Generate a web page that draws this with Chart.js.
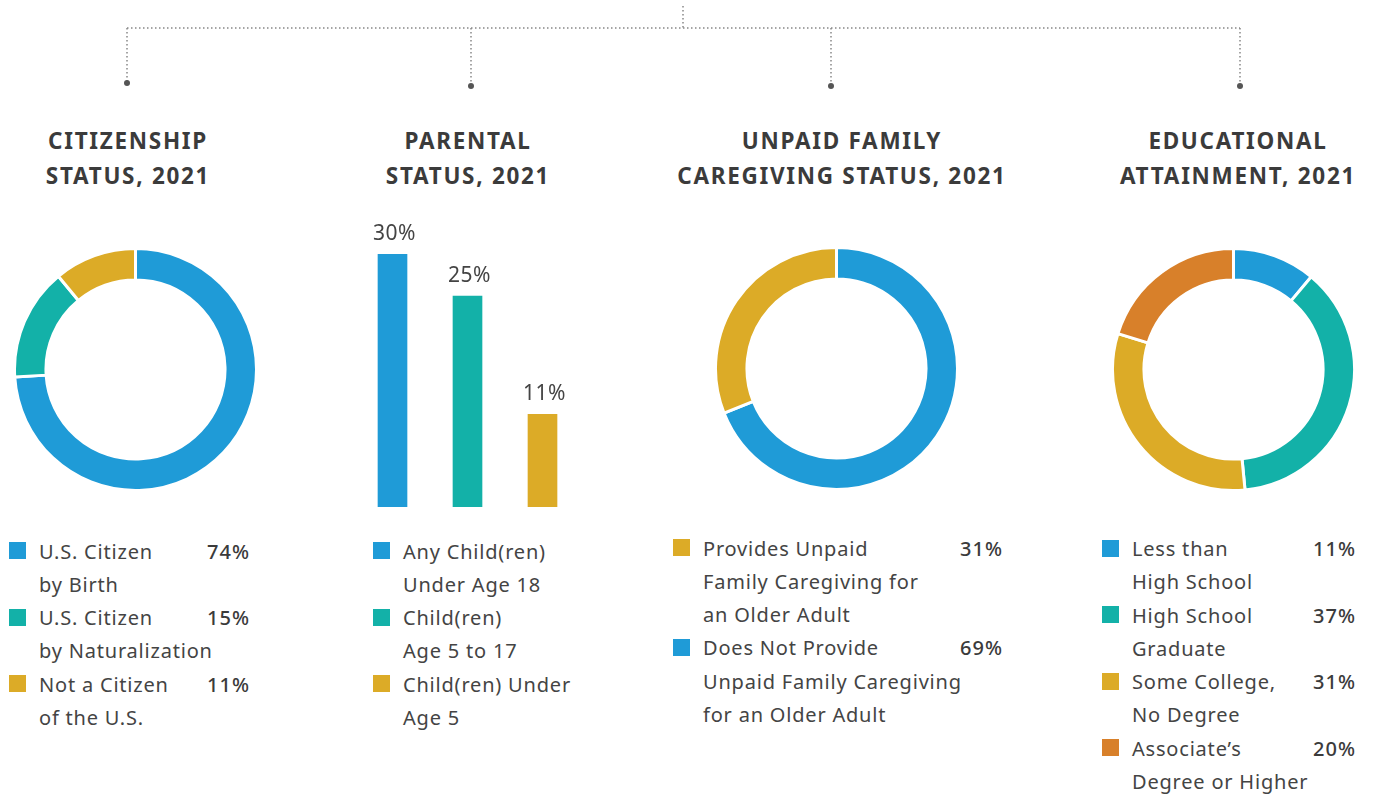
<!DOCTYPE html>
<html>
<head>
<meta charset="utf-8">
<script src="https://cdn.jsdelivr.net/npm/chart.js@4.4.1/dist/chart.umd.min.js"></script>
<style>
  html, body { margin: 0; padding: 0; background: #fff; }
  body { width: 1377px; height: 797px; position: relative; overflow: hidden; font-family: "Noto Sans", "Open Sans", sans-serif; }
  canvas { position: absolute; }
  .title { position: absolute; width: 420px; text-align: center; font-weight: 700; font-size: 22.5px; line-height: 35px; letter-spacing: 1.7px; color: #3b3b3b; top: 122.5px; }
  .legend { position: absolute; font-size: 20px; line-height: 33.3px; letter-spacing: 0.8px; color: #444; }
  .legend .item { position: relative; white-space: pre-line; }
  .legend .sw { position: absolute; left: 0; top: 7.5px; width: 17px; height: 17px; }
  .legend .pct { position: absolute; right: 0; top: 0; font-weight: 500; color: #3b3b3b; letter-spacing: 1px; }
  svg { position: absolute; left: 0; top: 0; }
</style>
</head>
<body>
<svg width="1377" height="100">
  <g stroke="#888" stroke-width="1.5" stroke-dasharray="1.5 2.5" fill="none">
    <line x1="683" y1="6" x2="683" y2="28"/>
    <line x1="127" y1="28" x2="1240" y2="28"/>
    <line x1="127" y1="28" x2="127" y2="83"/>
    <line x1="471" y1="28" x2="471" y2="86"/>
    <line x1="831" y1="28" x2="831" y2="86"/>
    <line x1="1240" y1="28" x2="1240" y2="86"/>
  </g>
  <g fill="#555">
    <circle cx="127" cy="83" r="3"/>
    <circle cx="471" cy="86" r="3"/>
    <circle cx="831" cy="86" r="3"/>
    <circle cx="1240" cy="86" r="3"/>
  </g>
</svg>

<div class="title" style="left:-82px">CITIZENSHIP<br>STATUS, 2021</div>
<div class="title" style="left:258px">PARENTAL<br>STATUS, 2021</div>
<div class="title" style="left:632px">UNPAID FAMILY<br>CAREGIVING STATUS, 2021</div>
<div class="title" style="left:1028px">EDUCATIONAL<br>ATTAINMENT, 2021</div>

<canvas id="citizen" width="245" height="245" style="left:12.5px; top:246.5px"></canvas>
<canvas id="parent" width="225" height="307" style="left:355px; top:200px"></canvas>
<canvas id="care" width="245" height="245" style="left:713.5px; top:246px"></canvas>
<canvas id="edu" width="245" height="245" style="left:1110.5px; top:246.5px"></canvas>

<div class="legend" id="legCitizen" style="left:9px; top:534.6px; width:241px"></div>
<div class="legend" id="legParent" style="left:373px; top:534.6px; width:240px"></div>
<div class="legend" id="legCare" style="left:673px; top:531.6px; width:330px"></div>
<div class="legend" id="legEdu" style="left:1102px; top:532px; width:254px"></div>

<script>
const BLUE = "#1f9bd7", TEAL = "#13b1a8", GOLD = "#dcab27", ORANGE = "#d8802a";

// citizenship
const citizenLabels = ["U.S. Citizen\nby Birth", "U.S. Citizen\nby Naturalization", "Not a Citizen\nof the U.S."];
const citizenValues = [74, 15, 11];
const citizenColors = [BLUE, TEAL, GOLD];

// parental status
const parentLabels = ["Any Child(ren)\nUnder Age 18", "Child(ren)\nAge 5 to 17", "Child(ren) Under\nAge 5"];
const parentValues = [30, 25, 11];
const parentColors = [BLUE, TEAL, GOLD];

// caregiving (drawing order: blue from the top, legend shows gold first)
const careLabels = ["Does Not Provide\nUnpaid Family Caregiving\nfor an Older Adult", "Provides Unpaid\nFamily Caregiving for\nan Older Adult"];
const careValues = [69, 31];
const careColors = [BLUE, GOLD];
const careLegendOrder = [1, 0];

// education
const eduLabels = ["Less than\nHigh School", "High School\nGraduate", "Some College,\nNo Degree", "Associate\u2019s\nDegree or Higher"];
const eduValues = [11, 37, 31, 20];
const eduColors = [BLUE, TEAL, GOLD, ORANGE];

function doughnut(id, values, colors) {
    return new Chart(document.getElementById(id), {
        type: "doughnut",
        data: {
            labels: values.map((v, i) => i),
            datasets: [{
                data: values,
                backgroundColor: colors,
                borderColor: "#fff",
                borderWidth: 3
            }]
        },
        options: {
            responsive: false,
            animation: false,
            cutout: "74%",
            plugins: { legend: { display: false }, tooltip: { enabled: false } }
        }
    });
}

function legend(id, labels, colors, values, order) {
    const el = document.getElementById(id);
    (order || labels.map((l, i) => i)).forEach(i => {
        const item = document.createElement("div");
        item.className = "item";
        item.style.paddingLeft = "30px";
        item.textContent = labels[i];
        const sw = document.createElement("span");
        sw.className = "sw";
        sw.style.background = colors[i];
        item.appendChild(sw);
        if (values) {
            const p = document.createElement("span");
            p.className = "pct";
            p.textContent = values[i] + "%";
            item.appendChild(p);
        }
        el.appendChild(item);
    });
}

// value labels above the bars
const barLabels = {
    id: "barLabels",
    afterDatasetsDraw(chart) {
        const ctx = chart.ctx;
        ctx.save();
        ctx.font = "21px 'Noto Sans'";
        ctx.letterSpacing = "0.5px";
        ctx.fillStyle = "#444";
        ctx.textAlign = "center";
        ctx.textBaseline = "alphabetic";
        chart.getDatasetMeta(0).data.forEach((bar, i) => {
            ctx.fillText(chart.data.datasets[0].data[i] + "%", bar.x + 2, bar.y - 14);
        });
        ctx.restore();
    }
};

doughnut("citizen", citizenValues, citizenColors);
doughnut("care", careValues, careColors);
doughnut("edu", eduValues, eduColors);

new Chart(document.getElementById("parent"), {
    type: "bar",
    data: {
        labels: parentLabels,
        datasets: [{
            data: parentValues,
            backgroundColor: parentColors,
            barThickness: 29
        }]
    },
    options: {
        responsive: false,
        animation: false,
        layout: { padding: { top: 54 } },
        scales: {
            x: { display: false },
            y: { display: false, min: 0, max: 30 }
        },
        plugins: { legend: { display: false }, tooltip: { enabled: false } }
    },
    plugins: [barLabels]
});

legend("legCitizen", citizenLabels, citizenColors, citizenValues);
legend("legParent", parentLabels, parentColors, null);
legend("legCare", careLabels, careColors, careValues, careLegendOrder);
legend("legEdu", eduLabels, eduColors, eduValues);
</script>
</body>
</html>
